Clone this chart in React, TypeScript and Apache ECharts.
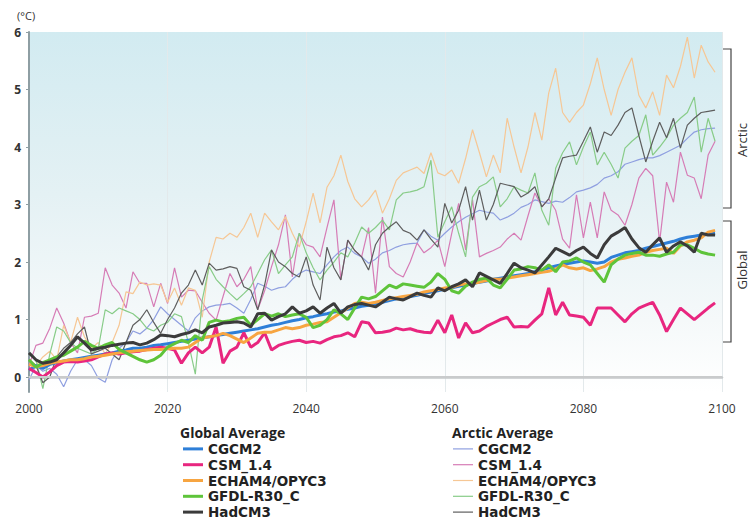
import React, { useEffect, useRef } from "react";
import * as echarts from "echarts";

// Years 2000..2099, one value per year
const years: number[] = Array.from({ length: 100 }, (_, i) => 2000 + i);

const yTicks = [0, 1, 2, 3, 4, 5, 6];
const xTicks = [2000, 2020, 2040, 2060, 2080, 2100];

const modelNames = ["CGCM2", "CSM_1.4", "ECHAM4/OPYC3", "GFDL-R30_C", "HadCM3"];

// Global average temperature change (°C)
const globalCGCM2 = [
  0.12, 0.2, 0.15, 0.22, 0.25, 0.28, 0.3, 0.32, 0.34, 0.36,
  0.38, 0.4, 0.42, 0.45, 0.47, 0.5, 0.5, 0.52, 0.55, 0.56,
  0.58, 0.6, 0.62, 0.64, 0.66, 0.68, 0.7, 0.72, 0.74, 0.76,
  0.78, 0.8, 0.82, 0.84, 0.87, 0.9, 0.92, 0.95, 0.98, 1.0,
  1.03, 1.05, 1.08, 1.1, 1.13, 1.15, 1.18, 1.2, 1.23, 1.25,
  1.27, 1.3, 1.33, 1.36, 1.38, 1.4, 1.42, 1.45, 1.48, 1.5,
  1.53, 1.55, 1.58, 1.6, 1.62, 1.65, 1.67, 1.7, 1.72, 1.74,
  1.76, 1.78, 1.8, 1.83, 1.86, 1.9, 1.93, 1.96, 1.98, 2.0,
  2.02, 2.0, 1.98, 2.0, 2.08, 2.12, 2.16, 2.18, 2.2, 2.24,
  2.27, 2.3, 2.33, 2.36, 2.4, 2.43, 2.45, 2.47, 2.48, 2.5,
];
const globalCSM = [
  0.15, 0.08, 0.0, 0.09, 0.2, 0.26, 0.27, 0.26, 0.28, 0.3,
  0.35, 0.4, 0.42, 0.4, 0.42, 0.44, 0.45, 0.48, 0.5, 0.52,
  0.5, 0.47, 0.24, 0.42, 0.52, 0.42, 0.52, 0.87, 0.24, 0.45,
  0.52, 0.77, 0.52, 0.6, 0.77, 0.47, 0.55, 0.59, 0.62, 0.64,
  0.6, 0.62, 0.59, 0.65, 0.7, 0.72, 0.77, 0.7, 0.96, 0.94,
  0.77, 0.78, 0.8, 0.85, 0.82, 0.84, 0.8, 0.78, 0.77, 0.99,
  0.77, 1.08, 0.68, 0.94, 0.77, 0.8, 0.88, 0.94, 1.0, 1.04,
  0.87, 0.88, 0.87, 0.99, 1.1, 1.55, 1.08, 1.3, 1.08, 1.06,
  1.04, 0.9, 1.2, 1.2, 1.2, 1.08, 0.96, 1.1, 1.2, 1.25,
  1.3, 1.08, 0.79, 1.0, 1.2, 1.1, 1.0, 1.1, 1.2, 1.29,
];
const globalECHAM = [
  0.22, 0.18, 0.2, 0.24, 0.26, 0.28, 0.3, 0.3, 0.32, 0.35,
  0.36, 0.38, 0.4, 0.42, 0.44, 0.45, 0.46, 0.47, 0.48, 0.48,
  0.49, 0.5, 0.5, 0.52, 0.6, 0.68, 0.7, 0.72, 0.76, 0.72,
  0.66, 0.6, 0.68, 0.76, 0.78, 0.78, 0.82, 0.86, 0.84, 0.86,
  0.9, 0.92, 0.95, 0.96, 1.04, 1.12, 1.2, 1.28, 1.3, 1.28,
  1.3, 1.33, 1.36, 1.38, 1.4, 1.42, 1.44, 1.48, 1.5, 1.52,
  1.55, 1.56, 1.6, 1.62, 1.63, 1.65, 1.68, 1.7, 1.7, 1.72,
  1.74, 1.76, 1.78, 1.8, 1.82, 1.84, 1.88, 1.95, 1.9, 1.88,
  1.9, 1.85, 1.88, 1.92, 2.0, 2.05, 2.07, 2.1, 2.12, 2.17,
  2.2, 2.22, 2.24, 2.15, 2.28, 2.35, 2.38, 2.42, 2.52, 2.55,
];
const globalGFDL = [
  0.3, 0.17, 0.25, 0.3, 0.35, 0.38, 0.45, 0.52, 0.62, 0.55,
  0.5, 0.56, 0.6, 0.48, 0.42, 0.36, 0.3, 0.26, 0.3, 0.38,
  0.52, 0.58, 0.64, 0.6, 0.72, 0.64, 0.95, 0.99, 0.96, 0.98,
  1.02, 1.04, 0.9, 1.0, 1.1, 1.06, 1.1, 1.05, 1.08, 1.1,
  1.04, 0.86, 0.9, 1.0, 1.17, 1.1, 1.0, 1.2, 1.39, 1.36,
  1.4, 1.5, 1.6, 1.55, 1.62, 1.6, 1.58, 1.56, 1.65, 1.8,
  1.7, 1.5, 1.46, 1.58, 1.65, 1.7, 1.72, 1.6, 1.55, 1.7,
  1.86, 1.88, 1.92, 1.9, 1.86, 1.95, 1.83, 2.0, 2.02, 2.07,
  2.0, 1.95, 1.8, 1.65, 1.95, 2.05, 2.12, 2.15, 2.17, 2.12,
  2.12, 2.1, 2.14, 2.17, 2.3, 2.3, 2.24, 2.17, 2.14, 2.12,
];
const globalHadCM3 = [
  0.42, 0.3, 0.24, 0.26, 0.3, 0.42, 0.55, 0.7, 0.59, 0.47,
  0.5, 0.52, 0.55, 0.57, 0.59, 0.6, 0.56, 0.59, 0.65, 0.73,
  0.72, 0.7, 0.74, 0.77, 0.82, 0.77, 0.87, 0.9, 0.94, 0.95,
  0.96, 0.94, 0.87, 1.1, 1.11, 0.99, 1.05, 1.1, 1.22, 1.11,
  1.15, 1.22, 1.11, 1.2, 1.28, 1.11, 1.22, 1.26, 1.28, 1.25,
  1.22, 1.3, 1.39, 1.36, 1.34, 1.4, 1.46, 1.42, 1.39, 1.55,
  1.5, 1.57, 1.62, 1.69, 1.57, 1.81, 1.75, 1.69, 1.63, 1.8,
  1.98, 1.9, 1.86, 1.81, 1.95, 2.09, 2.24, 2.18, 2.12, 2.2,
  2.26, 2.15, 2.07, 2.3, 2.45, 2.52, 2.6, 2.4, 2.25, 2.17,
  2.3, 2.42, 2.17, 2.28, 2.35, 2.28, 2.17, 2.5, 2.47, 2.47,
];

// Arctic average temperature change (°C)
const arcticCGCM2 = [
  -0.05, 0.2, 0.1, 0.15, 0.05, -0.17, 0.1, 0.3, 0.3, 0.2,
  -0.02, -0.09, 0.3, 0.5, 0.6, 0.8, 0.75, 0.85, 1.0, 1.22,
  1.1, 1.0, 0.9, 0.8, 1.03, 1.15, 1.22, 1.25, 1.26, 1.28,
  1.2, 1.11, 1.35, 1.63, 1.58, 1.51, 1.55, 1.57, 1.7, 1.8,
  1.86, 1.83, 1.8, 1.95, 2.09, 2.2, 2.26, 2.15, 2.09, 1.98,
  2.05, 2.16, 2.2, 2.26, 2.3, 2.32, 2.33, 2.56, 2.45, 2.38,
  2.5, 2.61, 2.7, 2.78, 2.84, 2.9, 2.87, 2.85, 2.73, 2.78,
  2.85, 2.95, 3.0, 3.08, 3.05, 3.02, 3.06, 3.04, 3.12, 3.22,
  3.25, 3.29, 3.35, 3.46, 3.5, 3.57, 3.7, 3.74, 3.78, 3.81,
  3.81, 3.85, 3.91, 3.97, 4.03, 4.15, 4.26, 4.3, 4.32, 4.33,
];
const arcticCSM = [
  0.2, 0.55, 0.59, 0.85, 1.2, 0.94, 0.6, 0.42, 1.04, 1.06,
  1.11, 1.9, 1.6, 1.46, 1.2, 1.83, 1.63, 1.63, 1.22, 1.63,
  1.28, 1.9, 1.39, 1.51, 1.5, 1.3, 1.11, 0.99, 1.4, 1.8,
  1.57, 1.7, 1.92, 1.17, 1.5, 1.92, 2.3, 2.82, 1.74, 2.5,
  2.3, 2.26, 2.09, 2.6, 3.08, 1.69, 2.38, 2.2, 2.09, 2.6,
  1.46, 2.78, 1.92, 1.8, 1.74, 2.0, 2.33, 2.16, 2.25, 2.38,
  1.92, 2.5, 3.02, 2.21, 3.08, 2.09, 2.15, 2.2, 2.26, 2.4,
  2.5, 2.38, 2.8, 3.2, 2.96, 3.1, 2.9, 2.4, 2.24, 3.17,
  2.42, 3.04, 2.42, 3.22, 2.9, 2.82, 2.64, 3.0, 3.46, 3.63,
  3.5, 2.35, 3.39, 3.04, 3.91, 3.51, 3.46, 3.1, 3.86, 4.1,
];
const arcticECHAM = [
  0.3, 0.2, 0.35, 0.45, 0.3, 0.9, 0.6, 1.04, 0.7, 0.5,
  0.6, 0.4, 0.6, 0.9, 1.48, 1.45, 1.65, 1.6, 1.62, 1.6,
  1.3, 1.55, 1.25, 1.55, 1.51, 1.04, 2.0, 2.43, 2.4, 2.5,
  2.43, 2.6, 2.85, 2.43, 2.85, 2.7, 2.56, 2.79, 2.5, 2.26,
  2.7, 3.2, 2.68, 3.3, 3.5, 3.86, 3.4, 3.1, 2.96, 3.08,
  3.25, 2.85, 3.1, 3.42, 3.55, 3.6, 3.65, 3.54, 3.9, 3.55,
  3.5, 3.6, 3.37, 3.8, 4.3, 3.9, 3.48, 3.86, 3.55, 4.5,
  4.0, 3.55, 4.0, 4.6, 4.12, 4.94, 5.37, 4.6, 4.43, 4.6,
  4.73, 5.1, 5.55, 5.0, 4.55, 5.0, 5.3, 5.55, 4.9, 4.68,
  4.96, 4.55, 5.25, 5.03, 5.4, 5.91, 5.2, 5.77, 5.48, 5.3,
];
const arcticGFDL = [
  0.4, 0.3, -0.2, 0.4, 0.87, 0.8, 0.6, 0.5, 0.45, 0.4,
  0.5, 1.17, 1.1, 1.2, 1.15, 1.1, 1.0, 0.85, 0.8, 0.9,
  0.95, 1.1, 1.05, 0.6, 0.05, 1.34, 1.92, 1.7, 1.57, 1.45,
  1.34, 1.45, 1.57, 1.8, 2.04, 2.21, 1.8, 1.95, 2.09, 2.5,
  2.16, 1.9, 1.69, 1.86, 2.0, 2.16, 2.09, 2.33, 2.61, 2.5,
  2.6, 2.73, 2.56, 3.08, 3.2, 3.22, 3.25, 3.31, 3.77, 2.43,
  2.7, 2.96, 2.5, 2.09, 3.13, 3.31, 3.37, 3.48, 2.96, 3.1,
  3.31, 3.25, 3.2, 3.55, 2.9, 2.64, 3.63, 3.9, 4.09, 3.69,
  4.0, 4.26, 3.69, 3.91, 3.7, 3.46, 3.98, 4.1, 4.2, 4.56,
  3.86, 4.0, 4.16, 4.38, 4.5, 4.6, 4.87, 3.91, 4.5, 4.1,
];
const arcticHadCM3 = [
  0.3, 0.2, -0.1, 0.0, 0.35, 0.5, 0.6, 0.75, 0.87, 0.4,
  0.45, 0.5, 0.4, 0.3, 0.6, 0.9, 1.0, 1.17, 0.95, 0.76,
  1.0, 1.2, 1.46, 1.6, 1.86, 1.6, 1.98, 1.86, 1.88, 1.92,
  1.89, 1.57, 1.51, 1.17, 1.6, 2.21, 2.0, 1.92, 1.8, 1.74,
  2.09, 1.6, 1.34, 2.26, 1.9, 1.69, 2.38, 2.2, 2.09, 1.86,
  2.3, 2.5, 2.61, 2.7, 2.55, 2.5, 2.38, 2.56, 2.4, 2.26,
  3.02, 2.68, 2.9, 3.31, 2.73, 3.25, 2.73, 3.0, 3.37, 3.34,
  3.31, 3.13, 3.2, 3.31, 2.96, 3.1, 3.46, 3.81, 3.84, 3.86,
  4.1, 4.35, 3.91, 4.26, 4.2, 4.38, 4.6, 4.68, 4.2, 3.74,
  4.1, 4.43, 4.16, 4.5, 3.98, 4.38, 4.5, 4.6, 4.62, 4.64,
];

const globalValues = [globalCGCM2, globalCSM, globalECHAM, globalGFDL, globalHadCM3];
const arcticValues = [arcticCGCM2, arcticCSM, arcticECHAM, arcticGFDL, arcticHadCM3];

const globalColors = ["#2e7fd8", "#e8267f", "#f7a541", "#5ec43a", "#3b3b3b"];
const arcticColors = ["#8f9fe0", "#d67cb6", "#f6c795", "#88cc88", "#5e5e5e"];

const FONT = "'Open Sans', 'DejaVu Sans', sans-serif";
const ITEM_FONT = "'DejaVu Sans', 'Open Sans', sans-serif";

export default function App() {
  const ref = useRef<HTMLDivElement>(null);

  useEffect(() => {
    if (!ref.current) return;
    const chart = echarts.init(ref.current, undefined, { renderer: "svg" });

    const toPairs = (vals: number[]) => years.map((y, i) => [y, vals[i]]);

    const arcticSeries = modelNames.map((m, i) => ({
      name: "Arctic " + m,
      type: "line",
      data: toPairs(arcticValues[i]),
      symbol: "none",
      smooth: false,
      lineStyle: { color: arcticColors[i], width: 1.2 },
      itemStyle: { color: arcticColors[i] },
      z: 2,
    }));

    const globalSeries = modelNames.map((m, i) => ({
      name: "Global " + m,
      type: "line",
      data: toPairs(globalValues[i]),
      symbol: "none",
      smooth: false,
      lineStyle: { color: globalColors[i], width: 3 },
      itemStyle: { color: globalColors[i] },
      z: 3,
    }));

    // zero reference line
    (arcticSeries[0] as any).markLine = {
      silent: true,
      symbol: ["none", "none"],
      label: { show: false },
      lineStyle: { color: "#c9cbcc", width: 2, type: "solid" },
      data: [{ yAxis: 0 }],
    };

    const legendBase = (itemHeight: number) => ({
      orient: "vertical",
      padding: 0,
      itemWidth: 20,
      itemHeight,
      itemGap: 0,
      icon: "rect",
      selectedMode: false,
      formatter: (n: string) => n.replace(/^(Global|Arctic) /, ""),
      textStyle: {
        fontFamily: ITEM_FONT,
        fontWeight: "bold",
        fontSize: 13.5,
        lineHeight: 15.8,
        color: "#222",
      },
    });

    const bracket = (y1: number, y2: number) => ({
      type: "polyline",
      shape: { points: [[723, y1], [731, y1], [731, y2], [723, y2]] },
      style: { stroke: "#444", lineWidth: 1.2, fill: "none" },
    });

    const heading = (text: string, x: number) => ({
      type: "text",
      x,
      y: 432.5,
      style: {
        text,
        fontFamily: FONT,
        fontWeight: "bold",
        fontSize: 14,
        fill: "#222",
        textVerticalAlign: "middle",
      },
    });

    const sideLabel = (text: string, y: number) => ({
      type: "text",
      x: 742,
      y,
      rotation: Math.PI / 2,
      style: {
        text,
        fontFamily: FONT,
        fontSize: 13,
        fill: "#333",
        textAlign: "center",
        textVerticalAlign: "middle",
      },
    });

    chart.setOption({
      animation: false,
      backgroundColor: "#ffffff",
      grid: {
        left: 29,
        right: 29,
        top: 32,
        bottom: 132,
        show: true,
        borderWidth: 0,
        backgroundColor: new echarts.graphic.LinearGradient(0, 0, 0, 1, [
          { offset: 0, color: "#d2ebf1" },
          { offset: 0.45, color: "#e4f1f4" },
          { offset: 0.8, color: "#f5f9fa" },
          { offset: 1, color: "#ffffff" },
        ]),
      },
      xAxis: {
        type: "value",
        min: 2000,
        max: 2100,
        interval: 20,
        axisLine: { show: true, lineStyle: { color: "#c5c8ca", width: 2.5 } },
        axisTick: { show: false },
        axisLabel: {
          margin: 10,
          fontFamily: FONT,
          fontSize: 12,
          color: "#333",
          formatter: (v: number) => String(v),
          customValues: xTicks,
        },
        splitLine: { show: true, lineStyle: { color: "#e3e9eb", width: 1 } },
      },
      yAxis: {
        type: "value",
        min: -0.26,
        max: 6,
        axisLine: { show: true, lineStyle: { color: "#8e9ea3", width: 2 } },
        axisTick: { show: true, length: 3, lineStyle: { color: "#8e9ea3" }, customValues: yTicks },
        axisLabel: {
          margin: 8,
          fontFamily: FONT,
          fontSize: 12,
          fontWeight: "bold",
          color: "#333",
          customValues: yTicks,
          formatter: (v: number) => String(v),
        },
        splitLine: { show: false },
      },
      legend: [
        {
          ...legendBase(3),
          left: 183,
          top: 441,
          height: 82,
          data: modelNames.map((m) => "Global " + m),
        },
        {
          ...legendBase(1.2),
          left: 453,
          top: 441,
          height: 82,
          data: modelNames.map((m) => "Arctic " + m),
        },
      ],
      graphic: [
        {
          type: "text",
          x: 17,
          y: 15,
          style: {
            text: "(°C)",
            fontFamily: FONT,
            fontSize: 11,
            fill: "#333",
            textVerticalAlign: "middle",
          },
        },
        heading("Global Average", 180),
        heading("Arctic Average", 452),
        bracket(49, 208),
        bracket(221, 342),
        sideLabel("Arctic", 140),
        sideLabel("Global", 270),
      ],
      series: [...arcticSeries, ...globalSeries],
    });

    return () => chart.dispose();
  }, []);

  return (
    <div
      ref={ref}
      style={{ position: "absolute", left: 0, top: 0, width: 751, height: 524, background: "#fff" }}
    />
  );
}
